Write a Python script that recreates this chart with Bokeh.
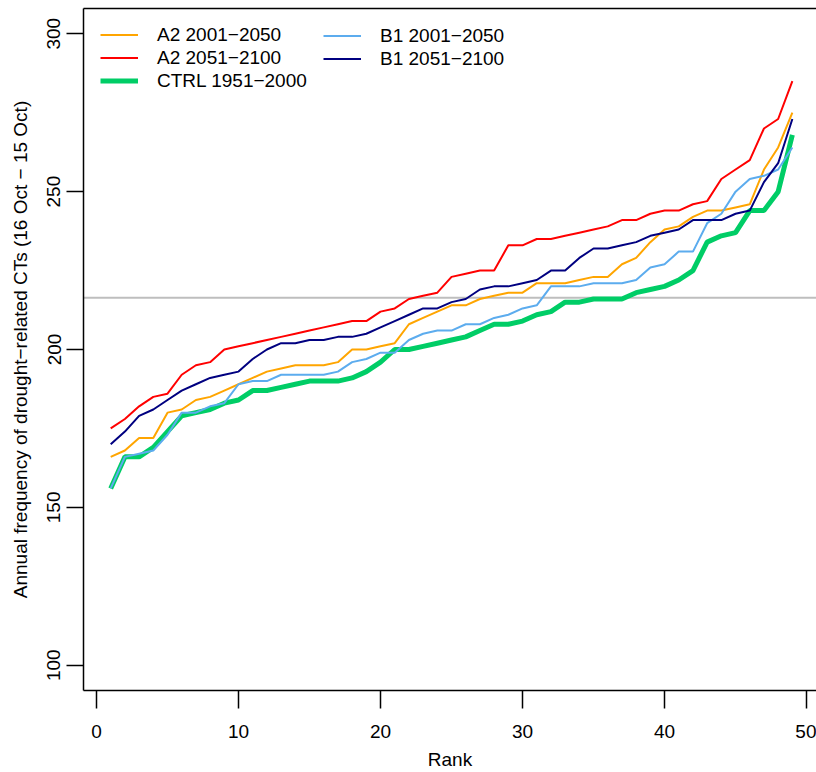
from bokeh.plotting import figure
from bokeh.models import Range1d, FixedTicker, LinearAxis, Span, Legend, LegendItem
from bokeh.embed import file_html
from bokeh.resources import INLINE

# ---------------- data ----------------
rank = list(range(1, 50))

a2_2001_2050 = [166, 168, 172, 172, 180, 181, 184, 185, 187, 189, 191,
                193, 194, 195, 195, 195, 196, 200, 200, 201,
                202, 208, 210, 212, 214, 214, 216, 217, 218, 218,
                221, 221, 221, 222, 223, 223, 227, 229, 234, 238,
                239, 242, 244, 244, 245, 246, 257, 264, 275]

a2_2051_2100 = [175, 178, 182, 185, 186, 192, 195, 196, 200, 201, 202,
                203, 204, 205, 206, 207, 208, 209, 209, 212,
                213, 216, 217, 218, 223, 224, 225, 225, 233, 233,
                235, 235, 236, 237, 238, 239, 241, 241, 243, 244,
                244, 246, 247, 254, 257, 260, 270, 273, 285]

ctrl_1951_2000 = [156, 166, 166, 169, 174, 179, 180, 181, 183, 184, 187,
                  187, 188, 189, 190, 190, 190, 191, 193, 196,
                  200, 200, 201, 202, 203, 204, 206, 208, 208, 209,
                  211, 212, 215, 215, 216, 216, 216, 218, 219, 220,
                  222, 225, 234, 236, 237, 244, 244, 250, 268]

b1_2001_2050 = [156, 166, 167, 168, 173, 180, 180, 182, 183, 189, 190,
                190, 192, 192, 192, 192, 193, 196, 197, 199,
                199, 203, 205, 206, 206, 208, 208, 210, 211, 213,
                214, 220, 220, 220, 221, 221, 221, 222, 226, 227,
                231, 231, 240, 243, 250, 254, 255, 257, 264]

b1_2051_2100 = [170, 174, 179, 181, 184, 187, 189, 191, 192, 193, 197,
                200, 202, 202, 203, 203, 204, 204, 205, 207,
                209, 211, 213, 213, 215, 216, 219, 220, 220, 221,
                222, 225, 225, 229, 232, 232, 233, 234, 236, 237,
                238, 241, 241, 241, 243, 244, 253, 259, 273]

reference_level = 216.4

x_ticks = [0, 10, 20, 30, 40, 50]
y_ticks = [100, 150, 200, 250, 300]

labels = ["A2 2001\u22122050", "A2 2051\u22122100", "CTRL 1951\u22122000",
          "B1 2001\u22122050", "B1 2051\u22122100"]
x_title = "Rank"
y_title = "Annual frequency of drought\u2212related CTs (16 Oct \u2212 15 Oct)"

# ---------------- figure ----------------
FONT = "Liberation Sans"
FS = "19px"

p = figure(width=816, height=772, output_backend="svg", toolbar_location=None,
           x_range=Range1d(-0.915, 50.70), y_range=Range1d(92, 308),
           min_border_left=83, min_border_right=0, min_border_top=8,
           min_border_bottom=80, x_axis_label=x_title, y_axis_label=y_title)
p.outline_line_color = None
p.grid.visible = False
p.background_fill_color = "white"
p.border_fill_color = "white"

# axes
for ax in (p.xaxis[0], p.yaxis[0]):
    ax.major_tick_in = 0
    ax.minor_tick_line_color = None
    ax.axis_line_width = 1.5
    ax.major_tick_line_width = 1.5
    ax.axis_line_color = "black"
    ax.major_tick_line_color = "black"
    ax.major_label_text_font = FONT
    ax.major_label_text_font_size = FS
    ax.major_label_text_color = "black"
    ax.axis_label_text_font = FONT
    ax.axis_label_text_font_size = FS
    ax.axis_label_text_font_style = "normal"
    ax.axis_label_text_color = "black"

p.xaxis[0].ticker = FixedTicker(ticks=x_ticks)
p.yaxis[0].ticker = FixedTicker(ticks=y_ticks)
p.xaxis[0].major_tick_out = 18
p.xaxis[0].major_label_standoff = 16
p.xaxis[0].axis_label_standoff = 8
p.yaxis[0].major_tick_out = 17
p.yaxis[0].major_label_orientation = "vertical"
p.yaxis[0].major_label_standoff = 6
p.yaxis[0].axis_label_standoff = 14

top_axis = LinearAxis(ticker=FixedTicker(ticks=[]), major_label_text_font_size="0px",
                      major_tick_out=0, major_tick_in=0, major_label_standoff=0,
                      axis_line_width=1.5, axis_line_color="black",
                      minor_tick_line_color=None)
p.add_layout(top_axis, "above")

# reference line
p.add_layout(Span(location=reference_level, dimension="width",
                  line_color="#BEBEBE", line_width=2, level="underlay"))

# series
r_ctrl = p.line(rank, ctrl_1951_2000, line_color="#00CD66", line_width=5)
r_a2a = p.line(rank, a2_2001_2050, line_color="#FFA500", line_width=2)
r_a2b = p.line(rank, a2_2051_2100, line_color="#FF0000", line_width=2)
r_b1a = p.line(rank, b1_2001_2050, line_color="#5CACEE", line_width=2)
r_b1b = p.line(rank, b1_2051_2100, line_color="#000080", line_width=2)


def make_legend(items, loc):
    return Legend(items=items, location=loc, padding=0, margin=0, spacing=1,
                  label_standoff=19, glyph_width=38, glyph_height=21,
                  label_height=21, label_text_font=FONT,
                  label_text_font_size=FS, label_text_color="black",
                  border_line_color=None, background_fill_alpha=0)


leg1 = make_legend([LegendItem(label=labels[0], renderers=[r_a2a]),
                    LegendItem(label=labels[1], renderers=[r_a2b]),
                    LegendItem(label=labels[2], renderers=[r_ctrl])], (17, 598.5))
leg2 = make_legend([LegendItem(label=labels[3], renderers=[r_b1a]),
                    LegendItem(label=labels[4], renderers=[r_b1b])], (240, 620.5))
p.add_layout(leg1)
p.add_layout(leg2)

open("out.html", "w").write(file_html(p, INLINE))
